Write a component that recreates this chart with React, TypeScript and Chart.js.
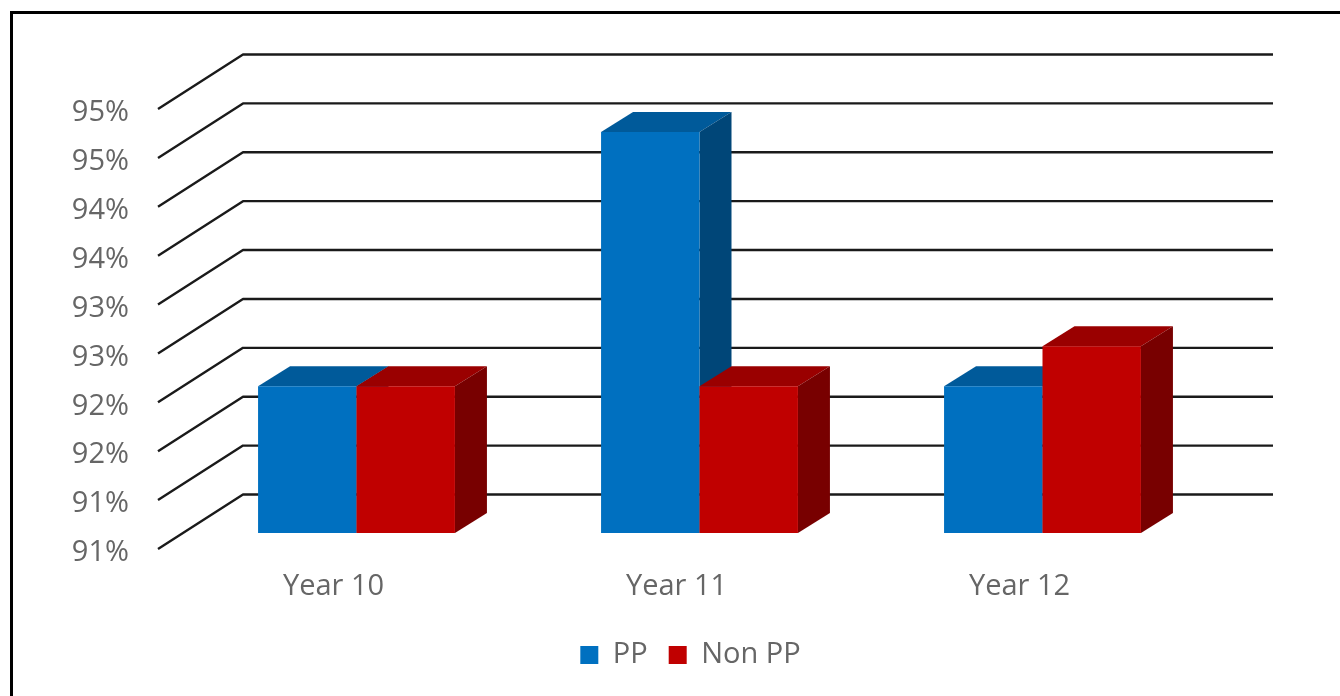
import React, { useEffect, useRef } from "react";
import { Chart, registerables } from "chart.js";

Chart.register(...registerables);

const categories = ["Year 10", "Year 11", "Year 12"];
const ppValues = [92, 94.6, 92];
const nonPpValues = [92, 92, 92.41];
const yTickLabels = ["91%", "91%", "92%", "92%", "93%", "93%", "94%", "94%", "95%", "95%"];
const yMin = 90.5;
const yMax = 95;
const yStep = 0.5;

const FONT = "'Open Sans', sans-serif";
const TEXT = "#666666";

const WALL_DX = 85;
const WALL_DY = -54.5;
const BAR_SHIFT_X = 27;
const BAR_SHIFT_Y = -16;
const BAR_DX = 32;
const BAR_DY = -20;

const faceColors: Record<string, { top: string; side: string }> = {
  PP: { top: "#005A9A", side: "#004678" },
  "Non PP": { top: "#9A0000", side: "#780000" },
};

const poly = (ctx: CanvasRenderingContext2D, pts: number[][], fill: string) => {
  ctx.fillStyle = fill;
  ctx.beginPath();
  pts.forEach((p, i) => (i ? ctx.lineTo(p[0], p[1]) : ctx.moveTo(p[0], p[1])));
  ctx.closePath();
  ctx.fill();
};

const threeD = {
  id: "threeD",
  beforeDraw(chart: any) {
    const { ctx, chartArea } = chart;
    ctx.save();
    ctx.fillStyle = "#ffffff";
    ctx.fillRect(0, 0, chart.width, chart.height);
    // Outer frame (left and top edges)
    ctx.strokeStyle = "#000000";
    ctx.lineWidth = 3;
    ctx.beginPath();
    ctx.moveTo(11.5, chart.height);
    ctx.lineTo(11.5, 12.5);
    ctx.lineTo(chart.width, 12.5);
    ctx.stroke();
    // Gridlines receding from the front plane to the back wall
    const yScale = chart.scales.y;
    ctx.strokeStyle = "#1a1a1a";
    ctx.lineWidth = 2.4;
    ctx.lineJoin = "round";
    yScale.ticks.forEach((t: any) => {
      const y = yScale.getPixelForValue(t.value);
      ctx.beginPath();
      ctx.moveTo(chartArea.left, y);
      ctx.lineTo(chartArea.left + WALL_DX, y + WALL_DY);
      ctx.lineTo(chartArea.right + WALL_DX + 1, y + WALL_DY);
      ctx.stroke();
    });
    ctx.restore();
  },
  // Left-hand series first, so that its side face falls behind its neighbour.
  beforeDatasetDraw() {
    return false;
  },
  afterDatasetsDraw(chart: any) {
    const { ctx } = chart;
    chart.data.datasets.forEach((ds: any, index: number) => {
      const meta = chart.getDatasetMeta(index);
      const c = faceColors[ds.label];
      ctx.save();
      ctx.translate(BAR_SHIFT_X, BAR_SHIFT_Y);
      meta.data.forEach((bar: any) => {
        const { x, y, base, width } = bar.getProps(["x", "y", "base", "width"], true);
        const l = x - width / 2;
        const r = x + width / 2;
        poly(ctx, [[l, y], [l + BAR_DX, y + BAR_DY], [r + BAR_DX, y + BAR_DY], [r, y]], c.top);
        poly(ctx, [[r, y], [r + BAR_DX, y + BAR_DY], [r + BAR_DX, base + BAR_DY], [r, base]], c.side);
      });
      meta.controller.draw();
      ctx.restore();
    });
  },
};

export default function App() {
  const ref = useRef<HTMLCanvasElement | null>(null);

  useEffect(() => {
    const chart = new Chart(ref.current as HTMLCanvasElement, {
      type: "bar",
      plugins: [threeD],
      data: {
        labels: categories,
        datasets: [
          { label: "PP", data: ppValues, backgroundColor: "#0070C0", base: yMin, clip: false } as any,
          { label: "Non PP", data: nonPpValues, backgroundColor: "#C00000", base: yMin, clip: false } as any,
        ],
      },
      options: {
        responsive: false,
        animation: false,
        events: [],
        datasets: { bar: { categoryPercentage: 0.574, barPercentage: 1 } },
        layout: { padding: { left: 41, right: 0, top: 109, bottom: 16.5 } },
        plugins: {
          title: { display: false },
          tooltip: { enabled: false },
          legend: {
            position: "bottom",
            onClick: undefined,
            labels: {
              color: TEXT,
              font: { family: FONT, size: 29 },
              boxWidth: 18,
              boxHeight: 18,
              padding: 21,
            },
          },
        },
        scales: {
          x: {
            grid: { display: false },
            border: { display: false },
            ticks: {
              color: TEXT,
              font: { family: FONT, size: 29 },
              padding: 12,
              labelOffset: 4,
              maxRotation: 0,
            },
            afterFit(s: any) {
              s.height = 70.5;
            },
          },
          y: {
            min: yMin,
            max: yMax,
            grid: { display: false },
            border: { display: false },
            ticks: {
              stepSize: yStep,
              color: TEXT,
              padding: 21,
              labelOffset: 4,
              font: { family: FONT, size: 29 },
              callback: (_v: any, i: number) => yTickLabels[i],
            },
            afterFit(s: any) {
              s.width = 117;
            },
          },
          spacer: {
            position: "right",
            grid: { display: false },
            border: { display: false },
            ticks: { display: false },
            afterFit(s: any) {
              s.width = 153;
            },
          },
        },
      },
    } as any);
    return () => chart.destroy();
  }, []);

  return (
    <div style={{ position: "fixed", left: 0, top: 0, width: 1340, height: 696 }}>
      <canvas ref={ref} width={1340} height={696} style={{ display: "block" }} />
    </div>
  );
}
